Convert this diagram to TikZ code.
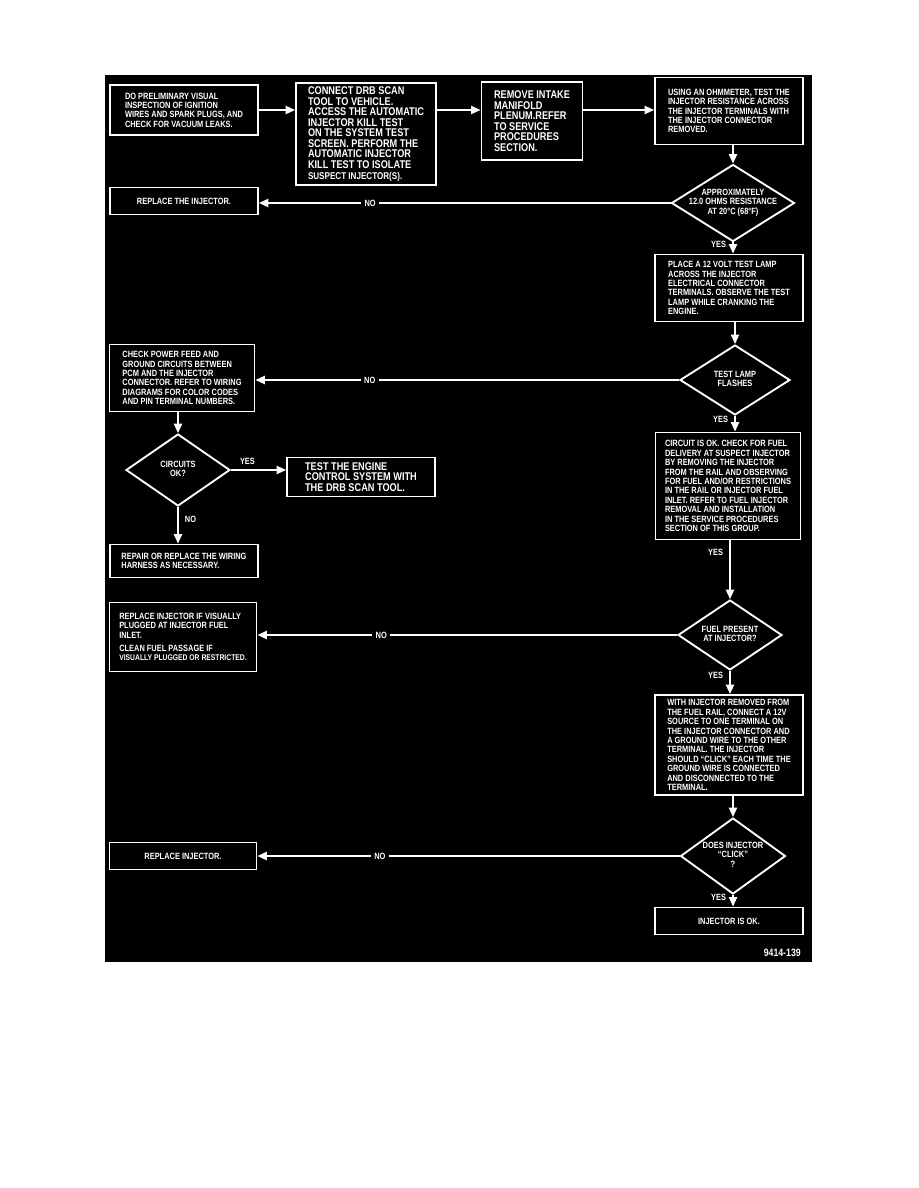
\documentclass[tikz,border=0pt]{standalone}
\usepackage{fontspec}
\setmainfont{Liberation Sans}[FakeStretch=0.82]
\usetikzlibrary{arrows.meta,shapes.geometric}

% centred lines of a decision, with no width of their own
\newcommand{\dlines}[1]{\makebox[0pt]{\begin{tabular}{@{}c@{}}#1\end{tabular}}}
\tikzset{wh/.style 2 args={minimum width=#1*0.75pt,minimum height=#2*0.75pt}}

\begin{document}
\begin{tikzpicture}[x=0.75pt,y=-0.75pt,
    box/.style={draw=white,line width=1.4pt,text=white,align=left,inner sep=2pt,font=\fontsize{6.8}{7.05}\selectfont\bfseries},
    bigbox/.style={box,font=\fontsize{8.4}{7.9}\selectfont\bfseries},
    dec/.style={diamond,draw=white,line width=1.4pt,text=white,inner sep=0pt,font=\fontsize{6.8}{7.2}\selectfont\bfseries},
    arr/.style={-{Triangle[length=7pt,width=6pt]},line width=1.4pt,draw=white},
    lbl/.style={text=white,font=\fontsize{6.8}{7.2}\selectfont\bfseries,inner sep=1.5pt},
    nolbl/.style={lbl,fill=black,inner sep=2.5pt}]
   \useasboundingbox (0,0) rectangle (918,1188);
   \fill[white] (0,0) rectangle (918,1188);
   \fill[black] (105,75) rectangle (812,962);
   % top row
   \node[box,wh={148}{50}] (prelim) at (184,110) {DO PRELIMINARY VISUAL\\INSPECTION OF IGNITION\\WIRES AND SPARK PLUGS, AND\\CHECK FOR VACUUM LEAKS.};
   \node[bigbox,wh={140}{102}] (drb) at (366,134) {CONNECT DRB SCAN\\TOOL TO VEHICLE.\\ACCESS THE AUTOMATIC\\INJECTOR KILL TEST\\ON THE SYSTEM TEST\\SCREEN. PERFORM THE\\AUTOMATIC INJECTOR\\KILL TEST TO ISOLATE\\{\fontsize{7.4}{7.9}\selectfont SUSPECT INJECTOR(S).}};
   \node[bigbox,wh={101}{78}] (plenum) at (532,121) {REMOVE INTAKE\\MANIFOLD\\PLENUM.REFER\\TO SERVICE\\PROCEDURES\\SECTION.};
   \node[box,wh={148}{67}] (ohm) at (729,111) {USING AN OHMMETER, TEST THE\\INJECTOR RESISTANCE ACROSS\\THE INJECTOR TERMINALS WITH\\THE INJECTOR CONNECTOR\\REMOVED.};
   % right column
   \node[dec,wh={123}{77}] (ohms) at (733,203) {\dlines{APPROXIMATELY\\12.0 OHMS RESISTANCE\\AT 20°C (68°F)}};
   \node[box,wh={148}{67}] (lamp) at (729,288) {PLACE A 12 VOLT TEST LAMP\\ACROSS THE INJECTOR\\ELECTRICAL CONNECTOR\\TERMINALS. OBSERVE THE TEST\\LAMP WHILE CRANKING THE\\ENGINE.};
   \node[dec,wh={110}{70}] (flash) at (735,380) {\dlines{TEST LAMP\\FLASHES}};
   \node[box,wh={145}{107}] (fuel) at (728,486) {CIRCUIT IS OK. CHECK FOR FUEL\\DELIVERY AT SUSPECT INJECTOR\\BY REMOVING THE INJECTOR\\FROM THE RAIL AND OBSERVING\\FOR FUEL AND/OR RESTRICTIONS\\IN THE RAIL OR INJECTOR FUEL\\INLET. REFER TO FUEL INJECTOR\\REMOVAL AND INSTALLATION\\IN THE SERVICE PROCEDURES\\SECTION OF THIS GROUP.};
   \node[dec,wh={104}{70}] (present) at (730,635) {\dlines{FUEL PRESENT\\AT INJECTOR?}};
   \node[box,wh={148}{100}] (click12) at (729,745) {WITH INJECTOR REMOVED FROM\\THE FUEL RAIL, CONNECT A 12V\\SOURCE TO ONE TERMINAL ON\\THE INJECTOR CONNECTOR AND\\A GROUND WIRE TO THE OTHER\\TERMINAL. THE INJECTOR\\SHOULD “CLICK” EACH TIME THE\\GROUND WIRE IS CONNECTED\\AND DISCONNECTED TO THE\\TERMINAL.};
   \node[dec,wh={105}{76}] (click) at (733,856) {\dlines{DOES INJECTOR\\“CLICK”\\?}};
   \node[box,wh={148}{27},align=center] (okay) at (729,921) {INJECTOR IS OK.};
   % left column
   \node[box,wh={148}{27},align=center] (repl1) at (184,201) {REPLACE THE INJECTOR.};
   \node[box,wh={145}{67}] (power) at (182,378) {CHECK POWER FEED AND\\GROUND CIRCUITS BETWEEN\\PCM AND THE INJECTOR\\CONNECTOR. REFER TO WIRING\\DIAGRAMS FOR COLOR CODES\\AND PIN TERMINAL NUMBERS.};
   \node[dec,wh={104}{72}] (circ) at (178,470) {\dlines{CIRCUITS\\OK?}};
   \node[bigbox,wh={148}{39}] (ecs) at (361,477) {TEST THE ENGINE\\CONTROL SYSTEM WITH\\THE DRB SCAN TOOL.};
   \node[box,wh={148}{33}] (harn) at (184,561) {REPAIR OR REPLACE THE WIRING\\HARNESS AS NECESSARY.};
   \node[box,wh={147}{69}] (plug) at (183,637) {REPLACE INJECTOR IF VISUALLY\\PLUGGED AT INJECTOR FUEL\\INLET.\\[3pt]CLEAN FUEL PASSAGE IF\\{\fontsize{6.2}{6.6}\selectfont VISUALLY PLUGGED OR RESTRICTED.}};
   \node[box,wh={147}{27},align=center] (repl2) at (183,856) {REPLACE INJECTOR.};
   \node[lbl,anchor=east,font=\fontsize{8}{9}\selectfont\bfseries] (fig) at (803,953) {9414-139};
   % connectors
   \draw[arr] (prelim.east) -- (prelim.east -| drb.west);
   \draw[arr] (drb.east |- prelim.east) -- (plenum.west |- prelim.east);
   \draw[arr] (plenum.east |- prelim.east) -- (ohm.west |- prelim.east);
   \draw[arr] (ohm.south -| ohms.north) -- (ohms.north);
   \draw[arr] (ohms.west) -- (ohms.west -| repl1.east) node[nolbl,pos=0.73]{NO};
   \draw[arr] (ohms.south) -- (ohms.south |- lamp.north) node[lbl,pos=0.2,left=3pt]{YES};
   \draw[arr] (lamp.south -| flash.north) -- (flash.north);
   \draw[arr] (flash.west) -- (flash.west -| power.east) node[nolbl,pos=0.73]{NO};
   \draw[arr] (flash.south) -- (flash.south |- fuel.north) node[lbl,pos=0.2,left=3pt]{YES};
   \draw[arr] (power.south -| circ.north) -- (circ.north);
   \draw[arr] (circ.east) -- (circ.east -| ecs.west) node[lbl,pos=0.3,above=2pt]{YES};
   \draw[arr] (circ.south) -- (circ.south |- harn.north) node[lbl,pos=0.35,right=3pt]{NO};
   \draw[arr] (fuel.south -| present.north) -- (present.north) node[lbl,pos=0.2,left=3pt]{YES};
   \draw[arr] (present.west) -- (present.west -| plug.east) node[nolbl,pos=0.705]{NO};
   \draw[arr] (present.south) -- (present.south |- click12.north) node[lbl,pos=0.2,left=3pt]{YES};
   \draw[arr] (click12.south -| click.north) -- (click.north);
   \draw[arr] (click.west) -- (click.west -| repl2.east) node[nolbl,pos=0.71]{NO};
   \draw[arr] (click.south) -- (click.south |- okay.north) node[lbl,pos=0.2,left=3pt]{YES};
\end{tikzpicture}
\end{document}
